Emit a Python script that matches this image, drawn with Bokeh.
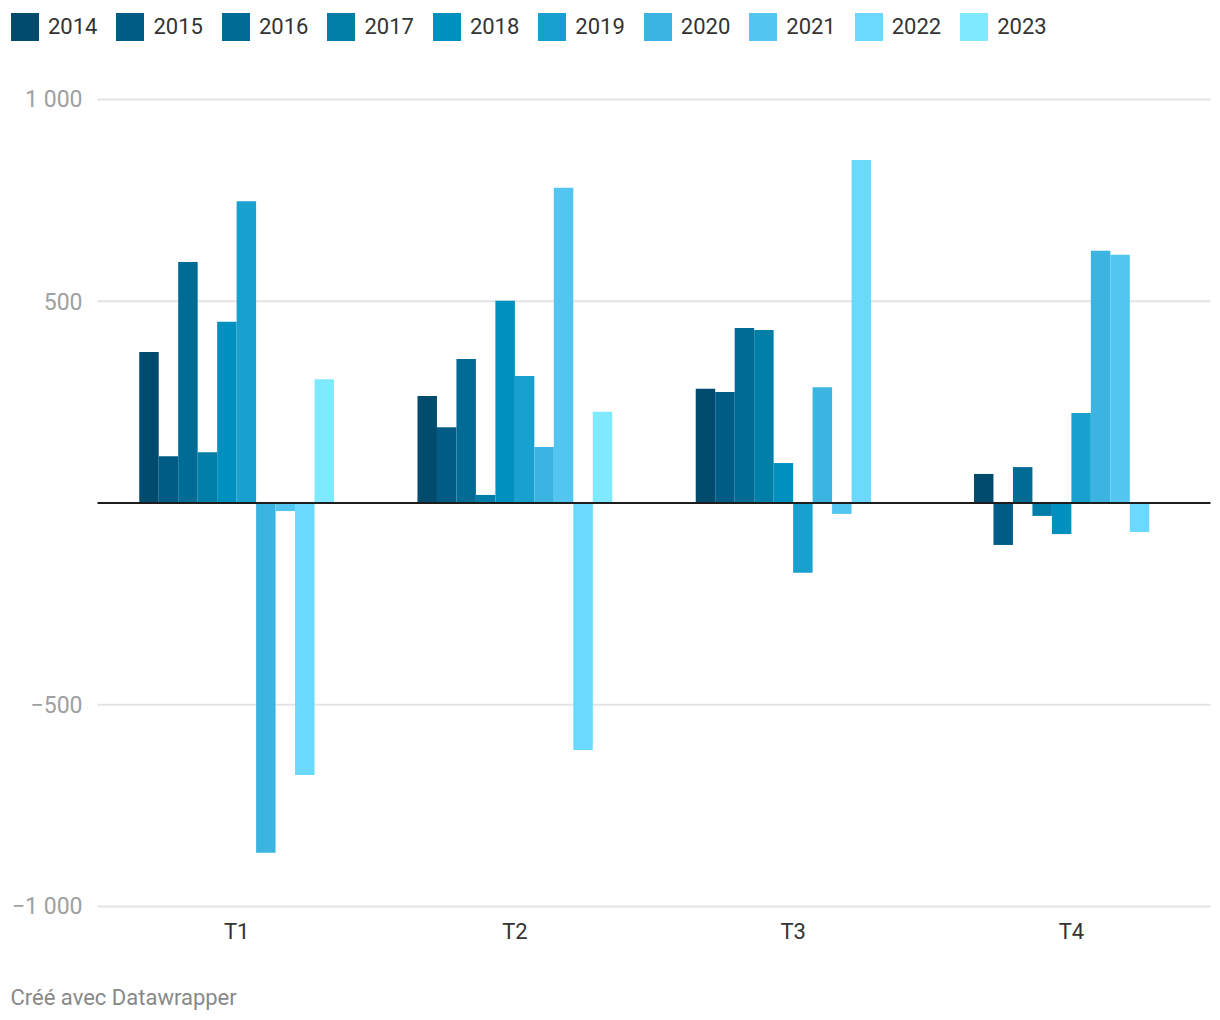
import numpy as np
from bokeh.plotting import figure
from bokeh.models import (ColumnDataSource, Range1d, Legend, LegendItem, Label)
from bokeh.transform import dodge
from bokeh.core.properties import value
from bokeh.embed import file_html
from bokeh.resources import INLINE

quarters = ["T1", "T2", "T3", "T4"]
years = ["2014", "2015", "2016", "2017", "2018", "2019", "2020", "2021", "2022", "2023"]

v2014 = [374, 265, 283, 72]
v2015 = [116, 188, 275, -104]
v2016 = [597, 357, 434, 89]
v2017 = [126, 20, 429, -32]
v2018 = [449, 501, 99, -77]
v2019 = [748, 315, -173, 223]
v2020 = [-867, 139, 287, 625]
v2021 = [-20, 781, -27, 615]
v2022 = [-674, -612, 850, -72]
v2023 = [307, 226, 0, 0]

series = [v2014, v2015, v2016, v2017, v2018, v2019, v2020, v2021, v2022, v2023]
colors = ["#004b6e", "#005c85", "#006c95", "#007ea8", "#0090bf",
          "#18a1cf", "#3cb4e1", "#52c6f1", "#6bd8ff", "#7feaff"]

ytick_values = [-1000, -500, 500, 1000]
ytick_labels = ["\u22121 000", "\u2212500", "500", "1 000"]

FONT = "Roboto"
W, H = 1212, 1012
# plot-area placement on the canvas (pixels)
PL, PR, PT, PB = 97, 1210, 99, 906
nq = len(quarters)
ymax, ymin = 1000, -1000
px_x = (PR - PL) / nq
px_y = (PB - PT) / (ymax - ymin)

p = figure(width=W, height=H, output_backend="svg", toolbar_location=None,
           x_axis_type=None, y_axis_type=None,
           x_range=Range1d(-PL / px_x, nq + (W - PR) / px_x),
           y_range=Range1d(ymin - (H - PB) / px_y, ymax + PT / px_y),
           min_border=0, min_border_left=0, min_border_right=0,
           min_border_top=0, min_border_bottom=0)
p.outline_line_color = None
p.background_fill_color = "white"
p.border_fill_color = "white"

centers = np.arange(nq) + 0.5
data = {"xc": centers, "q": quarters}
for y, s in zip(years, series):
    data[y] = s
src = ColumnDataSource(data)

# gridlines
gsrc = ColumnDataSource(dict(y=ytick_values, x0=[0] * len(ytick_values),
                             x1=[nq] * len(ytick_values), lab=ytick_labels))
p.segment(x0="x0", y0="y", x1="x1", y1="y", source=gsrc,
          line_color="#e3e3e3", line_width=2)

# bars
bw = 0.07
items = []
for i, (y, c) in enumerate(zip(years, colors)):
    off = (i - 4.5) * bw
    r = p.vbar(x=dodge("xc", off), top=y, bottom=0, width=bw,
               source=src, fill_color=c, line_color=None)
    items.append(LegendItem(label=y, renderers=[r]))

# zero line
p.segment(x0=[0], y0=[0], x1=[nq], y1=[0], line_color="#1d1d1d", line_width=2)

# y tick labels
p.text(x="x0", y="y", text="lab", source=gsrc, x_offset=-15,
       text_align="right", text_baseline="middle",
       text_font=value(FONT), text_font_size="23px", text_color="#a0a0a0")

# x category labels
p.text(x="xc", y=ymin, text="q", source=src, y_offset=12,
       text_align="center", text_baseline="top",
       text_font=value(FONT), text_font_size="22px", text_color="#333333")

legend = Legend(items=items, orientation="horizontal", location=(7, H - 44),
                glyph_width=35, glyph_height=35, label_standoff=6, spacing=15,
                padding=0, margin=0, border_line_color=None,
                background_fill_alpha=0,
                label_text_font=FONT, label_text_font_size="22px",
                label_text_color="#333333")
p.add_layout(legend, "center")

p.add_layout(Label(x=10, y=H - 997, x_units="screen", y_units="screen",
                   text="Créé avec Datawrapper", text_font=FONT,
                   text_font_size="22px", text_color="#888888",
                   text_baseline="middle"))

open("out.html", "w").write(file_html(p, INLINE))
